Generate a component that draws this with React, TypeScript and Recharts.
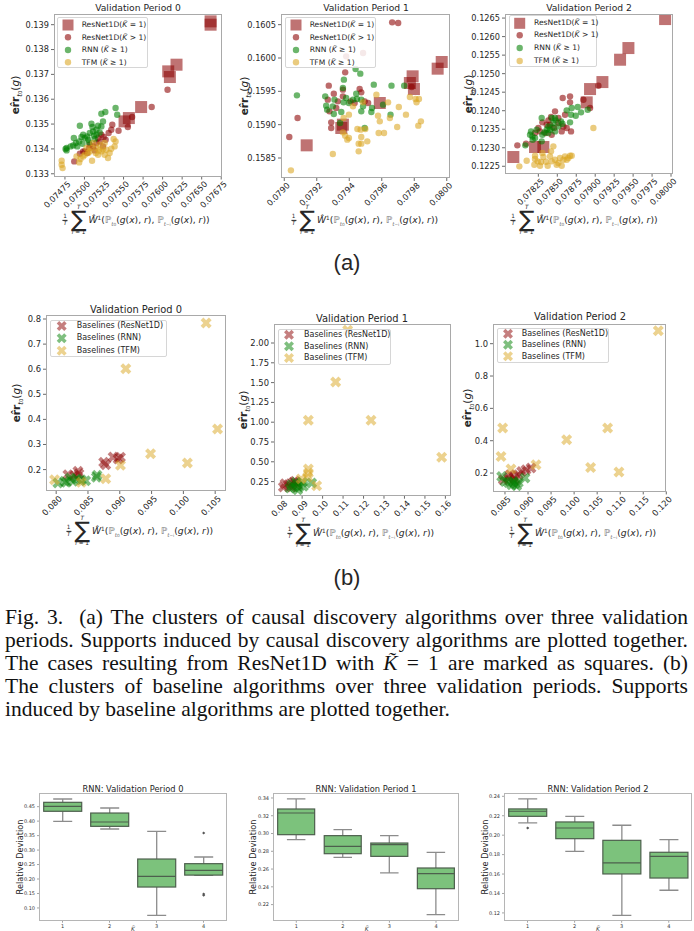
import React from 'react';
import { ScatterChart, Scatter, XAxis, YAxis, BarChart, Bar } from 'recharts';

type Pt = [number, number];

const RED = '#8b0000';
const GREEN = '#008000';
const GOLD = '#daa520';

// ---------------- (a) Validation Period 0 ----------------
const a0ResNetK1: Pt[] = [
  [0.076614, 0.139134], [0.076614, 0.139], [0.076178, 0.13739], [0.076072, 0.137121],
  [0.076093, 0.136893], [0.075725, 0.135685], [0.075513, 0.135108], [0.075568, 0.135242],
];
const a0ResNetKgt1: Pt[] = [
  [0.076063, 0.136383], [0.07586, 0.135685], [0.07561, 0.135283], [0.075555, 0.13488], [0.075436, 0.134732],
  [0.075356, 0.134974], [0.075309, 0.134638], [0.075216, 0.134571], [0.075246, 0.134477], [0.075195, 0.134303],
  [0.075153, 0.134236], [0.07511, 0.134102], [0.075068, 0.134169], [0.075059, 0.134035], [0.075004, 0.1339],
  [0.074983, 0.1339], [0.074941, 0.133806], [0.074869, 0.133498], [0.075237, 0.134102], [0.075174, 0.134437],
  [0.075271, 0.13437], [0.075131, 0.133941], [0.075034, 0.133833], [0.075343, 0.134773],
];
const a0Rnn: Pt[] = [
  [0.074941, 0.134934], [0.075267, 0.135484], [0.075398, 0.135645], [0.075216, 0.135417], [0.075419, 0.135377],
  [0.075089, 0.135014], [0.075102, 0.13488], [0.07511, 0.134706], [0.075068, 0.134638], [0.074983, 0.134571],
  [0.074962, 0.134477], [0.075004, 0.134437], [0.07489, 0.134236], [0.074856, 0.134142], [0.074771, 0.134035],
  [0.074771, 0.133941], [0.075123, 0.134531], [0.075047, 0.13437], [0.074932, 0.134303], [0.075131, 0.134397],
  [0.074758, 0.133994], [0.074864, 0.134437], [0.075153, 0.134773], [0.075174, 0.134934], [0.075034, 0.134504],
  [0.075195, 0.134665], [0.074822, 0.134102], [0.074907, 0.134102], [0.074975, 0.134209], [0.075059, 0.134263],
  [0.075153, 0.134571], [0.075216, 0.134907], [0.075237, 0.135108],
];
const a0Tfm: Pt[] = [
  [0.074708, 0.133525], [0.074708, 0.133364], [0.07472, 0.133229], [0.074949, 0.133592], [0.074983, 0.133699],
  [0.074932, 0.133458], [0.075097, 0.133525], [0.075047, 0.133833], [0.075174, 0.133766], [0.075216, 0.1339],
  [0.07528, 0.133967], [0.075322, 0.133833], [0.075301, 0.133632], [0.075386, 0.134102], [0.075398, 0.134303],
  [0.075373, 0.134397], [0.075258, 0.134236], [0.075195, 0.134169], [0.075153, 0.134035], [0.07511, 0.134236],
  [0.075025, 0.134035], [0.075068, 0.1339], [0.075144, 0.133833], [0.075004, 0.133766], [0.074898, 0.133699],
  [0.075258, 0.133766], [0.075343, 0.134008], [0.075237, 0.133994], [0.075089, 0.134035], [0.075186, 0.133941],
];
const a0XTicks = [0.07475, 0.075, 0.07525, 0.0755, 0.07575, 0.076, 0.07625, 0.0765, 0.07675];
const a0YTicks = [0.133, 0.134, 0.135, 0.136, 0.137, 0.138, 0.139];

// ---------------- (a) Validation Period 1 ----------------
const a1ResNetK1: Pt[] = [
  [0.079969, 0.15994], [0.079944, 0.15984], [0.07979, 0.159725], [0.079773, 0.159625], [0.079798, 0.159535],
  [0.079588, 0.159325], [0.079361, 0.159], [0.079351, 0.15895], [0.079138, 0.15869],
];
const a1ResNetKgt1: Pt[] = [
  [0.079664, 0.160535], [0.079701, 0.160525], [0.079485, 0.160075], [0.079381, 0.160025], [0.079375, 0.159785],
  [0.079082, 0.1591], [0.079031, 0.158815], [0.079274, 0.159585], [0.079305, 0.159465], [0.079361, 0.159525],
  [0.079361, 0.159425], [0.079268, 0.159375], [0.07932, 0.15925], [0.079278, 0.1592], [0.079289, 0.159035],
  [0.079289, 0.15895], [0.079464, 0.159535], [0.079474, 0.159485], [0.079408, 0.15935], [0.079495, 0.15935],
  [0.079516, 0.159325], [0.079784, 0.159565], [0.079433, 0.159325], [0.07933, 0.15935],
];
const a1Rnn: Pt[] = [
  [0.079078, 0.15944], [0.079439, 0.159835], [0.079468, 0.159765], [0.079367, 0.159675], [0.079361, 0.15955],
  [0.079252, 0.159425], [0.079309, 0.159375], [0.079258, 0.159285], [0.079264, 0.159225], [0.079305, 0.15916],
  [0.079365, 0.159335], [0.079398, 0.159325], [0.079443, 0.159465], [0.079447, 0.159385], [0.079474, 0.159375],
  [0.079485, 0.159275], [0.079474, 0.1592], [0.079551, 0.1596], [0.07954, 0.15925], [0.079536, 0.15919],
  [0.079608, 0.1593], [0.079654, 0.15915], [0.07966, 0.159585], [0.079738, 0.159585], [0.079495, 0.15895],
  [0.079344, 0.159025], [0.079351, 0.15919], [0.079299, 0.159275], [0.079423, 0.159375], [0.079381, 0.1594],
];
const a1Tfm: Pt[] = [
  [0.079041, 0.158315], [0.079299, 0.15856], [0.079365, 0.1591], [0.079398, 0.15915], [0.079361, 0.158885],
  [0.079375, 0.158835], [0.079398, 0.1588], [0.079388, 0.158775], [0.079458, 0.158715], [0.079474, 0.158715],
  [0.079458, 0.1586], [0.079511, 0.15875], [0.07945, 0.158935], [0.07947, 0.158925], [0.079499, 0.158935],
  [0.079581, 0.158875], [0.079614, 0.158875], [0.079567, 0.15945], [0.079577, 0.159135], [0.079588, 0.15905],
  [0.079639, 0.159335], [0.07965, 0.1591], [0.079705, 0.159265], [0.079695, 0.158965], [0.079749, 0.15915],
  [0.079773, 0.159415], [0.079808, 0.159385], [0.079829, 0.159385], [0.079814, 0.159335], [0.079841, 0.15905],
  [0.079825, 0.158985], [0.079485, 0.159335], [0.079474, 0.158815], [0.079423, 0.159275],
];
const a1XTicks = [0.079, 0.0792, 0.0794, 0.0796, 0.0798, 0.08];
const a1YTicks = [0.1585, 0.159, 0.1595, 0.16, 0.1605];

// ---------------- (a) Validation Period 2 ----------------
const a2ResNetK1: Pt[] = [
  [0.079922, 0.126473], [0.079438, 0.125691], [0.079328, 0.125376], [0.079095, 0.124773], [0.078932, 0.124584],
  [0.078888, 0.124225], [0.078316, 0.12302], [0.078206, 0.12302], [0.07792, 0.12275],
];
const a2ResNetKgt1: Pt[] = [
  [0.079042, 0.124674], [0.078844, 0.124297], [0.078932, 0.124072], [0.078668, 0.124387], [0.078571, 0.124342],
  [0.078668, 0.124225], [0.07847, 0.123982], [0.078602, 0.123892], [0.078514, 0.123802], [0.078417, 0.123829],
  [0.078303, 0.123685], [0.07836, 0.123622], [0.07825, 0.123532], [0.078272, 0.123442], [0.078347, 0.123397],
  [0.078206, 0.123397], [0.078457, 0.123532], [0.078558, 0.123442], [0.078624, 0.123532], [0.078681, 0.123442],
  [0.07858, 0.123577], [0.078087, 0.12311], [0.077973, 0.123065], [0.078426, 0.123352], [0.078514, 0.123667],
  [0.078404, 0.123622], [0.078382, 0.123739],
];
const a2Rnn: Pt[] = [
  [0.07869, 0.124072], [0.078769, 0.124099], [0.078624, 0.124009], [0.078681, 0.123892], [0.078743, 0.123865],
  [0.078813, 0.123955], [0.078901, 0.124027], [0.078294, 0.123802], [0.078426, 0.123802], [0.078479, 0.123739],
  [0.078549, 0.123712], [0.078514, 0.123577], [0.078382, 0.123577], [0.07836, 0.123487], [0.078435, 0.12355],
  [0.078567, 0.123649], [0.078329, 0.123415], [0.078382, 0.123397], [0.078303, 0.123352], [0.078153, 0.123442],
  [0.07814, 0.123352], [0.078175, 0.123218], [0.078171, 0.123307], [0.078294, 0.123173], [0.078078, 0.123065],
  [0.07847, 0.123802], [0.078668, 0.123685], [0.078448, 0.123667], [0.078404, 0.123487], [0.078228, 0.123487],
  [0.078206, 0.123263], [0.07847, 0.123442],
];
const a2Tfm: Pt[] = [
  [0.078976, 0.123532], [0.077999, 0.122498], [0.078096, 0.122651], [0.078206, 0.122786], [0.078206, 0.122696],
  [0.078197, 0.122543], [0.078272, 0.122516], [0.078316, 0.12275], [0.078373, 0.122516], [0.078404, 0.122768],
  [0.078417, 0.122903], [0.078448, 0.123038], [0.078492, 0.122543], [0.07847, 0.122678], [0.078514, 0.122588],
  [0.078536, 0.122723], [0.07858, 0.122678], [0.078602, 0.122768], [0.078668, 0.122786], [0.078646, 0.122723],
  [0.07869, 0.122786], [0.078558, 0.122516], [0.078351, 0.122624], [0.078285, 0.122615], [0.078426, 0.122633],
  [0.078624, 0.122678], [0.078303, 0.122858], [0.078241, 0.122633],
];
const a2XTicks = [0.07825, 0.0785, 0.07875, 0.079, 0.07925, 0.0795, 0.07975, 0.08];
const a2YTicks = [0.1225, 0.123, 0.1235, 0.124, 0.1245, 0.125, 0.1255, 0.126, 0.1265];

// ---------------- (b) Baselines ----------------
const b0ResNet: Pt[] = [
  [0.09011, 0.2489], [0.08895, 0.2502], [0.08747, 0.229], [0.08779, 0.2197], [0.08342, 0.1931],
  [0.08358, 0.1838], [0.08184, 0.1798], [0.08289, 0.1758], [0.08974, 0.2422],
];
const b0Rnn: Pt[] = [
  [0.08642, 0.1772], [0.08632, 0.1692], [0.08463, 0.1559], [0.08395, 0.1599], [0.08326, 0.1626],
  [0.08263, 0.1533], [0.08158, 0.1493], [0.08132, 0.1533], [0.08026, 0.1466], [0.08221, 0.1666],
];
const b0Tfm: Pt[] = [
  [0.10358, 0.7841], [0.09095, 0.6021], [0.10537, 0.3618], [0.09484, 0.2635], [0.10063, 0.2263],
  [0.09011, 0.217], [0.08779, 0.1639], [0.07974, 0.1599], [0.08395, 0.1493],
];
const b0XTicks = [0.08, 0.085, 0.09, 0.095, 0.1, 0.105];
const b0YTicks = [0.2, 0.3, 0.4, 0.5, 0.6, 0.7, 0.8];

const b1ResNet: Pt[] = [
  [0.08326, 0.2112], [0.08081, 0.1817], [0.08163, 0.2238], [0.0857, 0.2406], [0.08733, 0.2112],
  [0.08489, 0.1817], [0.08652, 0.2533],
];
const b1Rnn: Pt[] = [
  [0.08489, 0.2112], [0.08619, 0.1817], [0.087, 0.2406], [0.08847, 0.1817], [0.09059, 0.1901],
  [0.09466, 0.2322], [0.08782, 0.148], [0.0901, 0.2406], [0.08407, 0.169],
];
const b1Tfm: Pt[] = [
  [0.11225, 2.16], [0.10639, 1.5075], [0.09303, 1.0235], [0.12366, 1.0235], [0.15819, 0.5563],
  [0.09303, 0.409], [0.09303, 0.3585], [0.09271, 0.308], [0.0971, 0.1985], [0.08945, 0.2827],
];
const b1XTicks = [0.08, 0.09, 0.1, 0.11, 0.12, 0.13, 0.14, 0.15, 0.16];
const b1YTicks = [0.25, 0.5, 0.75, 1.0, 1.25, 1.5, 1.75, 2.0];

const b2ResNet: Pt[] = [
  [0.08573, 0.1691], [0.08464, 0.1587], [0.08681, 0.1794], [0.08789, 0.1897], [0.08862, 0.2103],
  [0.08956, 0.2206], [0.09064, 0.2309], [0.08717, 0.1587], [0.08609, 0.1897],
];
const b2Rnn: Pt[] = [
  [0.08428, 0.1794], [0.08573, 0.1422], [0.08645, 0.1278], [0.08717, 0.134], [0.08681, 0.1484],
  [0.08789, 0.1422], [0.08934, 0.1691], [0.085, 0.1484], [0.08753, 0.1216],
];
const b2Tfm: Pt[] = [
  [0.11826, 1.0804], [0.0845, 0.4783], [0.08414, 0.3031], [0.10727, 0.4783], [0.09838, 0.4062],
  [0.10358, 0.235], [0.10973, 0.2062], [0.09173, 0.2515], [0.0863, 0.2247],
];
const b2XTicks = [0.085, 0.09, 0.095, 0.1, 0.105, 0.11, 0.115, 0.12];
const b2YTicks = [0.2, 0.4, 0.6, 0.8, 1.0];

// ---------------- RNN box plots ----------------
const boxNames = ['1', '2', '3', '4'];
const bp0WLow = [0.399, 0.3728, 0.0744, 0.2127];
const bp0Q1 = [0.434, 0.382, 0.1723, 0.2135];
const bp0Med = [0.451, 0.397, 0.2092, 0.23];
const bp0Q3 = [0.465, 0.428, 0.2691, 0.253];
const bp0WHigh = [0.4765, 0.4454, 0.3647, 0.276];
const bp0Out = [[], [], [], [0.359, 0.148, 0.144]];
const bp0YTicks = [0.1, 0.15, 0.2, 0.25, 0.3, 0.35, 0.4, 0.45];

const bp1WLow = [0.2931, 0.2732, 0.2556, 0.2087];
const bp1Q1 = [0.2987, 0.2773, 0.2743, 0.2379];
const bp1Med = [0.3231, 0.2856, 0.2875, 0.2548];
const bp1Q3 = [0.3276, 0.2976, 0.2893, 0.2612];
const bp1WHigh = [0.3389, 0.3044, 0.2976, 0.2788];
const bp1Out = [[], [], [], []];
const bp1YTicks = [0.22, 0.24, 0.26, 0.28, 0.3, 0.32, 0.34];

const bp2WLow = [0.2126, 0.1834, 0.1175, 0.1433];
const bp2Q1 = [0.2194, 0.1964, 0.1601, 0.1559];
const bp2Med = [0.2246, 0.2074, 0.1714, 0.1782];
const bp2Q3 = [0.227, 0.2136, 0.1947, 0.1824];
const bp2WHigh = [0.2373, 0.2194, 0.2102, 0.1954];
const bp2Out = [[0.2074], [], [], []];
const bp2YTicks = [0.12, 0.14, 0.16, 0.18, 0.2, 0.22, 0.24];

// ---------------- helpers ----------------
const FONT = 'DejaVu Sans';
const TXT = '#262626';
const X_SHAPE: Pt[] = [
  [-0.25, -0.5], [0, -0.25], [0.25, -0.5], [0.5, -0.25], [0.25, 0], [0.5, 0.25],
  [0.25, 0.5], [0, 0.25], [-0.25, 0.5], [-0.5, 0.25], [-0.25, 0], [-0.5, -0.25],
];

type Shape = 'circle' | 'square' | 'x';
interface Style { color: string; opacity: number; shape: Shape; size: number }

function Marker({ cx, cy, st }: { cx: number; cy: number; st: Style }) {
  if (cx == null || cy == null) return null;
  if (st.shape === 'square') {
    return <rect x={cx - st.size / 2} y={cy - st.size / 2} width={st.size} height={st.size} fill={st.color} fillOpacity={st.opacity} />;
  }
  if (st.shape === 'x') {
    const pts = X_SHAPE.map(([a, b]) => `${cx + a * st.size},${cy + b * st.size}`).join(' ');
    return <polygon points={pts} fill={st.color} fillOpacity={st.opacity} />;
  }
  return <circle cx={cx} cy={cy} r={st.size / 2} fill={st.color} fillOpacity={st.opacity} />;
}

const SQ: Style = { color: RED, opacity: 0.55, shape: 'square', size: 12 };
const RC: Style = { color: RED, opacity: 0.58, shape: 'circle', size: 6.4 };
const GC: Style = { color: GREEN, opacity: 0.58, shape: 'circle', size: 6.4 };
const YC: Style = { color: GOLD, opacity: 0.58, shape: 'circle', size: 6.4 };
const RX: Style = { color: RED, opacity: 0.5, shape: 'x', size: 11 };
const GX: Style = { color: GREEN, opacity: 0.5, shape: 'x', size: 11 };
const YX: Style = { color: GOLD, opacity: 0.5, shape: 'x', size: 11 };

const makeRotTick = (dec: number, fs: number) => (props: any) => {
  const { x, y, payload } = props;
  return (
    <g transform={`translate(${x + 2},${y - 1})`}>
      <text x={0} y={0} dy={fs * 0.72} textAnchor="end" transform="rotate(-45)" fontSize={fs} fontFamily={FONT} fill={TXT}>
        {Number(payload.value).toFixed(dec)}
      </text>
    </g>
  );
};

interface SeriesDef { data: Pt[]; st: Style }
interface PanelProps {
  left: number; top: number; pw: number; ph: number;
  xDomain: [number, number]; yDomain: [number, number];
  xTicks: number[]; yTicks: number[]; xDec: number; yDec: number;
  series: SeriesDef[]; fs: number;
}
const YW = 44, XH = 50, MT = 8, MR = 8;

function ScatterPanel(p: PanelProps) {
  const w = YW + p.pw + MR;
  const h = MT + p.ph + XH;
  return (
    <div style={{ position: 'absolute', left: p.left - YW, top: p.top - MT, width: w, height: h }}>
      <ScatterChart width={w} height={h} margin={{ top: MT, right: MR, bottom: 0, left: 0 }}>
        <XAxis type="number" dataKey="x" domain={p.xDomain} ticks={p.xTicks} allowDataOverflow interval={0}
          height={XH} tickSize={3} axisLine={false} tickLine={{ stroke: '#444', strokeWidth: 0.8 }}
          tick={makeRotTick(p.xDec, p.fs)} />
        <YAxis type="number" dataKey="y" domain={p.yDomain} ticks={p.yTicks} allowDataOverflow interval={0}
          width={YW} tickSize={3} axisLine={false} tickLine={{ stroke: '#444', strokeWidth: 0.8 }}
          tick={{ fontSize: p.fs, fontFamily: FONT, fill: TXT }} tickFormatter={(v: number) => v.toFixed(p.yDec)} />
        {p.series.map((s, i) => (
          <Scatter key={i} data={s.data.map(([x, y]) => ({ x, y }))} isAnimationActive={false}
            shape={(props: any) => <Marker cx={props.cx} cy={props.cy} st={s.st} />} />
        ))}
      </ScatterChart>
      <div style={{ position: 'absolute', left: YW, top: MT, width: p.pw, height: p.ph, border: '1px solid #a9a9a9', boxSizing: 'border-box', pointerEvents: 'none' }} />
    </div>
  );
}

const BoxShape = (props: any) => {
  const { x, y, width, height, payload } = props;
  if (x == null || y == null || !payload) return null;
  const top = height >= 0 ? y : y + height;
  const h = Math.abs(height);
  const { wLow, q1, med, q3, wHigh, out } = payload;
  const pix = (v: number) => top + ((wHigh - v) / (wHigh - wLow)) * h;
  const cx = x + width / 2;
  const cap = width * 0.25;
  const edge = '#4d5f4d';
  const wh = '#8c8c8c';
  return (
    <g>
      <line x1={cx} x2={cx} y1={pix(wHigh)} y2={pix(q3)} stroke={wh} strokeWidth={1.3} />
      <line x1={cx} x2={cx} y1={pix(q1)} y2={pix(wLow)} stroke={wh} strokeWidth={1.3} />
      <line x1={cx - cap} x2={cx + cap} y1={pix(wHigh)} y2={pix(wHigh)} stroke={wh} strokeWidth={1.3} />
      <line x1={cx - cap} x2={cx + cap} y1={pix(wLow)} y2={pix(wLow)} stroke={wh} strokeWidth={1.3} />
      <rect x={x} y={pix(q3)} width={width} height={Math.max(pix(q1) - pix(q3), 0.5)} fill="#7cc27c" stroke={edge} strokeWidth={1.2} />
      <line x1={x} x2={x + width} y1={pix(med)} y2={pix(med)} stroke={edge} strokeWidth={1.2} />
      {(out || []).map((v: number, i: number) => (
        <rect key={i} x={cx - 1.1} y={pix(v) - 1.1} width={2.2} height={2.2} fill="#555" transform={`rotate(45 ${cx} ${pix(v)})`} />
      ))}
    </g>
  );
};

interface BoxPanelProps {
  left: number; top: number; pw: number; ph: number; yDomain: [number, number]; yTicks: number[];
  wLow: number[]; q1: number[]; med: number[]; q3: number[]; wHigh: number[]; out: number[][];
}
const BYW = 30, BXH = 12, BMT = 4, BMR = 4;
function BoxPanel(p: BoxPanelProps) {
  const w = BYW + p.pw + BMR;
  const h = BMT + p.ph + BXH;
  const data = boxNames.map((name, i) => ({
    name, range: [p.wLow[i], p.wHigh[i]], wLow: p.wLow[i], q1: p.q1[i], med: p.med[i], q3: p.q3[i], wHigh: p.wHigh[i], out: p.out[i],
  }));
  return (
    <div style={{ position: 'absolute', left: p.left - BYW, top: p.top - BMT, width: w, height: h }}>
      <BarChart width={w} height={h} data={data} margin={{ top: BMT, right: BMR, bottom: 0, left: 0 }} barCategoryGap="10%">
        <XAxis dataKey="name" type="category" height={BXH} tickSize={2} axisLine={false} tickLine={{ stroke: '#666', strokeWidth: 0.6 }}
          tick={{ fontSize: 5, fontFamily: FONT, fill: '#333' }} interval={0} />
        <YAxis type="number" domain={p.yDomain} ticks={p.yTicks} allowDataOverflow interval={0} width={BYW} tickSize={2}
          axisLine={false} tickLine={{ stroke: '#666', strokeWidth: 0.6 }} tick={{ fontSize: 5, fontFamily: FONT, fill: '#333' }}
          tickFormatter={(v: number) => v.toFixed(2)} />
        <Bar dataKey="range" shape={BoxShape} isAnimationActive={false} />
      </BarChart>
      <div style={{ position: 'absolute', left: BYW, top: BMT, width: p.pw, height: p.ph, border: '1px solid #b5b5b5', boxSizing: 'border-box', pointerEvents: 'none' }} />
    </div>
  );
}

function Title({ cx, cy, fs, children }: { cx: number; cy: number; fs: number; children: React.ReactNode }) {
  return (
    <div style={{ position: 'absolute', left: cx, top: cy, transform: 'translate(-50%,-50%)', whiteSpace: 'nowrap', fontFamily: FONT, fontSize: fs, color: TXT, lineHeight: 1 }}>
      {children}
    </div>
  );
}

function ErrLabel({ cx, cy, fs }: { cx: number; cy: number; fs: number }) {
  return (
    <div style={{ position: 'absolute', left: cx, top: cy, transform: 'translate(-50%,-50%) rotate(-90deg)', whiteSpace: 'nowrap', fontFamily: FONT, fontSize: fs, color: TXT, lineHeight: 1 }}>
      <b>er&#770;r</b>
      <span style={{ fontSize: fs * 0.68, position: 'relative', top: fs * 0.3 }}>
        <i>t</i><span style={{ fontSize: fs * 0.5 }}>0</span>
      </span>
      (<i>g</i>)
    </div>
  );
}

function SumLabel({ cx, cy, fs }: { cx: number; cy: number; fs: number }) {
  const small = fs * 0.62;
  const P = <span style={{ color: '#707070' }}>ℙ</span>;
  return (
    <div style={{ position: 'absolute', left: cx, top: cy, transform: 'translate(-50%,-50%)', display: 'flex', alignItems: 'center', whiteSpace: 'nowrap', fontFamily: FONT, fontSize: fs, color: TXT, lineHeight: 1 }}>
      <span style={{ display: 'inline-flex', flexDirection: 'column', alignItems: 'center', fontSize: small, marginRight: 1 }}>
        <span>1</span>
        <span style={{ borderTop: '0.7px solid #222', fontStyle: 'italic', padding: '0 1px' }}>T</span>
      </span>
      <span style={{ display: 'inline-flex', flexDirection: 'column', alignItems: 'center', margin: '0 2px' }}>
        <span style={{ fontSize: small, fontStyle: 'italic', marginBottom: -1 }}>T</span>
        <span style={{ fontSize: fs * 2.5, lineHeight: 0.82 }}>∑</span>
        <span style={{ fontSize: small, marginTop: 1 }}><i>i</i> = 1</span>
      </span>
      <span>
        <i>Ŵ</i><span style={{ fontSize: small, position: 'relative', top: -fs * 0.4 }}>1</span>
        ({P}<span style={{ fontSize: small, position: 'relative', top: fs * 0.3, color: '#707070' }}><i>t</i><span style={{ fontSize: small * 0.75 }}>0</span></span>
        (<i>g</i>(<i>x</i>), <i>r</i>), {P}<span style={{ fontSize: small, position: 'relative', top: fs * 0.3, color: '#707070' }}><i>t</i><span style={{ fontSize: small * 0.75 }}>−i</span></span>
        (<i>g</i>(<i>x</i>), <i>r</i>))
      </span>
    </div>
  );
}

interface LegItem { label: React.ReactNode; st: Style; msize: number }
function LegendBox({ left, top, width, height, rows, markerX, textX, fs, items }: {
  left: number; top: number; width: number; height: number; rows: number[]; markerX: number; textX: number; fs: number; items: LegItem[];
}) {
  return (
    <div style={{ position: 'absolute', left, top, width, height, border: '1px solid #d6d6d6', borderRadius: 2, background: 'rgba(255,255,255,0.85)', boxSizing: 'border-box', fontFamily: FONT, fontSize: fs, color: TXT }}>
      <svg width={width} height={height} style={{ position: 'absolute', left: -1, top: -1 }}>
        {items.map((it, i) => <Marker key={i} cx={markerX} cy={rows[i]} st={{ ...it.st, size: it.msize }} />)}
      </svg>
      {items.map((it, i) => (
        <div key={i} style={{ position: 'absolute', left: textX - 1, top: rows[i] - 1, transform: 'translateY(-50%)', whiteSpace: 'nowrap', lineHeight: 1 }}>{it.label}</div>
      ))}
    </div>
  );
}

const Kt = <i>K&#771;</i>;
const aLegendItems: LegItem[] = [
  { label: <>ResNet1D({Kt} = 1)</>, st: SQ, msize: 11 },
  { label: <>ResNet1D({Kt} &gt; 1)</>, st: RC, msize: 6.4 },
  { label: <>RNN ({Kt} ≥ 1)</>, st: GC, msize: 6.4 },
  { label: <>TFM ({Kt} ≥ 1)</>, st: YC, msize: 6.4 },
];
const bLegendItems: LegItem[] = [
  { label: 'Baselines (ResNet1D)', st: RX, msize: 10 },
  { label: 'Baselines (RNN)', st: GX, msize: 10 },
  { label: 'Baselines (TFM)', st: YX, msize: 10 },
];

const captionLines: React.ReactNode[] = [
  <>Fig. 3.&nbsp; (a) The clusters of causal discovery algorithms over three validation</>,
  <>periods. Supports induced by causal discovery algorithms are plotted together.</>,
  <>The cases resulting from ResNet1D with <i>K&#771;</i> = 1 are marked as squares. (b)</>,
  <>The clusters of baseline algorithms over three validation periods. Supports</>,
  <>induced by baseline algorithms are plotted together.</>,
];

export default function App() {
  return (
    <div style={{ position: 'absolute', left: 0, top: 0, width: 694, height: 931, overflow: 'hidden', background: '#fff' }}>
      {/* (a) row */}
      <ScatterPanel left={54} top={14.3} pw={168} ph={162.5} xDomain={[0.07461, 0.07676]} yDomain={[0.13289, 0.13943]}
        xTicks={a0XTicks} yTicks={a0YTicks} xDec={5} yDec={3} fs={8.2}
        series={[{ data: a0ResNetK1, st: SQ }, { data: a0ResNetKgt1, st: RC }, { data: a0Rnn, st: GC }, { data: a0Tfm, st: YC }]} />
      <ScatterPanel left={281.3} top={14.3} pw={169} ph={164} xDomain={[0.07898, 0.08002]} yDomain={[0.1582, 0.16066]}
        xTicks={a1XTicks} yTicks={a1YTicks} xDec={4} yDec={4} fs={8.2}
        series={[{ data: a1ResNetK1, st: SQ }, { data: a1ResNetKgt1, st: RC }, { data: a1Rnn, st: GC }, { data: a1Tfm, st: YC }]} />
      <ScatterPanel left={505} top={14.3} pw={168.3} ph={159.7} xDomain={[0.07781, 0.08003]} yDomain={[0.1223, 0.12661]}
        xTicks={a2XTicks} yTicks={a2YTicks} xDec={5} yDec={4} fs={8.2}
        series={[{ data: a2ResNetK1, st: SQ }, { data: a2ResNetKgt1, st: RC }, { data: a2Rnn, st: GC }, { data: a2Tfm, st: YC }]} />

      <Title cx={138} cy={8} fs={9.2}>Validation Period 0</Title>
      <Title cx={366} cy={8} fs={9.2}>Validation Period 1</Title>
      <Title cx={589} cy={8} fs={9.2}>Validation Period 2</Title>
      <ErrLabel cx={15} cy={95} fs={10.5} />
      <ErrLabel cx={244} cy={96} fs={10.5} />
      <ErrLabel cx={468} cy={94} fs={10.5} />
      <SumLabel cx={136} cy={220} fs={9.2} />
      <SumLabel cx={364.5} cy={220} fs={9.2} />
      <SumLabel cx={584} cy={220} fs={9.2} />
      <LegendBox left={57.3} top={17.3} width={91} height={51} rows={[8, 20.3, 33, 45.3]} markerX={11} textX={24.4} fs={7.6} items={aLegendItems} />
      <LegendBox left={285.3} top={17.3} width={91} height={51} rows={[8, 20.3, 33, 45.3]} markerX={11} textX={24.4} fs={7.6} items={aLegendItems} />
      <LegendBox left={509.3} top={15} width={88} height={52} rows={[8.3, 20.3, 33, 46]} markerX={10.7} textX={24.7} fs={7.6} items={aLegendItems} />

      <Title cx={347} cy={263} fs={22}><span style={{ fontFamily: 'Liberation Sans' }}>(a)</span></Title>

      {/* (b) row */}
      <ScatterPanel left={46} top={315} pw={180} ph={176} xDomain={[0.0784, 0.1067]} yDomain={[0.1147, 0.816]}
        xTicks={b0XTicks} yTicks={b0YTicks} xDec={3} yDec={1} fs={8.4}
        series={[{ data: b0ResNet, st: RX }, { data: b0Rnn, st: GX }, { data: b0Tfm, st: YX }]} />
      <ScatterPanel left={273.7} top={324.3} pw={177} ph={171.7} xDomain={[0.07625, 0.16274]} yDomain={[0.072, 2.24]}
        xTicks={b1XTicks} yTicks={b1YTicks} xDec={2} yDec={2} fs={8.4}
        series={[{ data: b1ResNet, st: RX }, { data: b1Rnn, st: GX }, { data: b1Tfm, st: YX }]} />
      <ScatterPanel left={493} top={324.3} pw={173.3} ph={167.4} xDomain={[0.0824, 0.12]} yDomain={[0.0866, 1.1217]}
        xTicks={b2XTicks} yTicks={b2YTicks} xDec={3} yDec={1} fs={8.4}
        series={[{ data: b2ResNet, st: RX }, { data: b2Rnn, st: GX }, { data: b2Tfm, st: YX }]} />

      <Title cx={136} cy={310} fs={9.9}>Validation Period 0</Title>
      <Title cx={362} cy={319} fs={9.9}>Validation Period 1</Title>
      <Title cx={580} cy={317} fs={9.9}>Validation Period 2</Title>
      <ErrLabel cx={16} cy={403} fs={10.5} />
      <ErrLabel cx={243} cy={410} fs={10.5} />
      <ErrLabel cx={467} cy={408} fs={10.5} />
      <SumLabel cx={139.5} cy={531} fs={9.2} />
      <SumLabel cx={360.5} cy={533} fs={9.2} />
      <SumLabel cx={582.5} cy={533} fs={9.2} />
      <LegendBox left={50} top={320} width={117} height={37} rows={[6, 18.3, 30.7]} markerX={11.7} textX={26.7} fs={8} items={bLegendItems} />
      <LegendBox left={278} top={329.3} width={113} height={36} rows={[5.7, 17.3, 29]} markerX={11} textX={26} fs={8} items={bLegendItems} />
      <LegendBox left={496.7} top={328.3} width={112} height={35} rows={[5.7, 16.7, 28.3]} markerX={11} textX={25} fs={8} items={bLegendItems} />

      <Title cx={347} cy={578} fs={22}><span style={{ fontFamily: 'Liberation Sans' }}>(b)</span></Title>

      {/* caption */}
      {captionLines.map((ln, i) => (
        <div key={i} style={{
          position: 'absolute', left: 5, top: 617 - 11.5 + i * 23, width: 683, height: 23, lineHeight: '23px',
          fontFamily: 'Liberation Serif', fontSize: 21.5, color: '#111', whiteSpace: 'nowrap',
          textAlign: i < 4 ? 'justify' : 'left', textAlignLast: i < 4 ? 'justify' : 'left',
        } as React.CSSProperties}>{ln}</div>
      ))}

      {/* RNN box plots */}
      <BoxPanel left={39} top={793.3} pw={188} ph={127.7} yDomain={[0.056, 0.4972]} yTicks={bp0YTicks}
        wLow={bp0WLow} q1={bp0Q1} med={bp0Med} q3={bp0Q3} wHigh={bp0WHigh} out={bp0Out} />
      <BoxPanel left={272.7} top={793.3} pw={186.3} ph={127.7} yDomain={[0.2019, 0.3456]} yTicks={bp1YTicks}
        wLow={bp1WLow} q1={bp1Q1} med={bp1Med} q3={bp1Q3} wHigh={bp1WHigh} out={bp1Out} />
      <BoxPanel left={504} top={793.3} pw={188.3} ph={127.7} yDomain={[0.112, 0.2434]} yTicks={bp2YTicks}
        wLow={bp2WLow} q1={bp2Q1} med={bp2Med} q3={bp2Q3} wHigh={bp2WHigh} out={bp2Out} />
      <Title cx={133} cy={789} fs={8.3}>RNN: Validation Period 0</Title>
      <Title cx={366} cy={789} fs={8.3}>RNN: Validation Period 1</Title>
      <Title cx={598} cy={789} fs={8.3}>RNN: Validation Period 2</Title>
      {[20, 253, 485].map((x, i) => (
        <div key={i} style={{ position: 'absolute', left: x, top: 857, transform: 'translate(-50%,-50%) rotate(-90deg)', whiteSpace: 'nowrap', fontFamily: FONT, fontSize: 8.2, color: TXT, lineHeight: 1 }}>Relative Deviation</div>
      ))}
      {[133, 366.7, 598].map((x, i) => (
        <div key={i} style={{ position: 'absolute', left: x, top: 925.5, transform: 'translateX(-50%)', fontFamily: FONT, fontSize: 6, color: '#444', lineHeight: 1 }}><i>K&#771;</i></div>
      ))}
    </div>
  );
}
